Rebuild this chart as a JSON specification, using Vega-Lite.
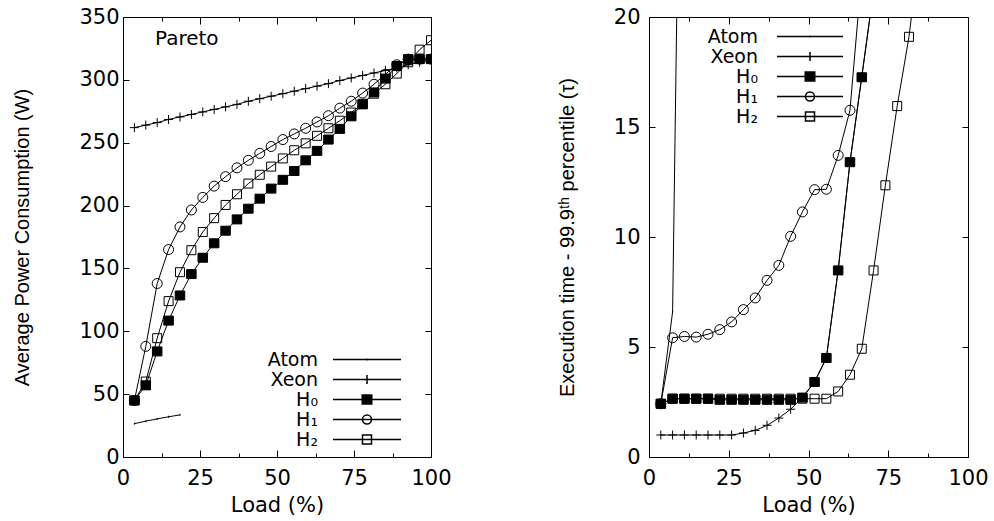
{
  "$schema": "https://vega.github.io/schema/vega-lite/v6.json",
  "padding": {"left": 12, "top": 5, "right": 5, "bottom": 5},
  "background": "white",
  "spacing": 104,
  "datasets": {
    "power": [
      {"series": "Atom", "load": 3.7, "value": 26.5}, {"series": "Atom", "load": 7.4, "value": 28.5}, {"series": "Atom", "load": 11.1, "value": 30.3}, {"series": "Atom", "load": 14.8, "value": 32}, {"series": "Atom", "load": 18.5, "value": 33.5},
      {"series": "Xeon", "load": 3.7, "value": 262}, {"series": "Xeon", "load": 7.4, "value": 264}, {"series": "Xeon", "load": 11.1, "value": 266}, {"series": "Xeon", "load": 14.8, "value": 268.5}, {"series": "Xeon", "load": 18.5, "value": 270.5}, {"series": "Xeon", "load": 22.2, "value": 272.5}, {"series": "Xeon", "load": 25.9, "value": 274.5}, {"series": "Xeon", "load": 29.6, "value": 276.5}, {"series": "Xeon", "load": 33.3, "value": 278.5}, {"series": "Xeon", "load": 37.0, "value": 280.5}, {"series": "Xeon", "load": 40.7, "value": 283}, {"series": "Xeon", "load": 44.4, "value": 285}, {"series": "Xeon", "load": 48.1, "value": 287}, {"series": "Xeon", "load": 51.9, "value": 289}, {"series": "Xeon", "load": 55.6, "value": 291}, {"series": "Xeon", "load": 59.3, "value": 293}, {"series": "Xeon", "load": 63.0, "value": 295}, {"series": "Xeon", "load": 66.7, "value": 297}, {"series": "Xeon", "load": 70.4, "value": 299.5}, {"series": "Xeon", "load": 74.1, "value": 301.5}, {"series": "Xeon", "load": 77.8, "value": 303.5}, {"series": "Xeon", "load": 81.5, "value": 305.5}, {"series": "Xeon", "load": 85.2, "value": 307.5}, {"series": "Xeon", "load": 88.9, "value": 309.5}, {"series": "Xeon", "load": 92.6, "value": 312}, {"series": "Xeon", "load": 96.3, "value": 314}, {"series": "Xeon", "load": 100, "value": 316},
      {"series": "H₂", "load": 3.7, "value": 45}, {"series": "H₂", "load": 7.4, "value": 60}, {"series": "H₂", "load": 11.1, "value": 94.5}, {"series": "H₂", "load": 14.8, "value": 124}, {"series": "H₂", "load": 18.5, "value": 147}, {"series": "H₂", "load": 22.2, "value": 164.5}, {"series": "H₂", "load": 25.9, "value": 179}, {"series": "H₂", "load": 29.6, "value": 190}, {"series": "H₂", "load": 33.3, "value": 200.5}, {"series": "H₂", "load": 37.0, "value": 209}, {"series": "H₂", "load": 40.7, "value": 217.5}, {"series": "H₂", "load": 44.4, "value": 224.5}, {"series": "H₂", "load": 48.1, "value": 231}, {"series": "H₂", "load": 51.9, "value": 237.5}, {"series": "H₂", "load": 55.6, "value": 244}, {"series": "H₂", "load": 59.3, "value": 249.5}, {"series": "H₂", "load": 63.0, "value": 255.5}, {"series": "H₂", "load": 66.7, "value": 261.5}, {"series": "H₂", "load": 70.4, "value": 267.5}, {"series": "H₂", "load": 74.1, "value": 274}, {"series": "H₂", "load": 77.8, "value": 281}, {"series": "H₂", "load": 81.5, "value": 289}, {"series": "H₂", "load": 85.2, "value": 296.5}, {"series": "H₂", "load": 88.9, "value": 305}, {"series": "H₂", "load": 92.6, "value": 314}, {"series": "H₂", "load": 96.3, "value": 324}, {"series": "H₂", "load": 100, "value": 331.5},
      {"series": "H₁", "load": 3.7, "value": 45}, {"series": "H₁", "load": 7.4, "value": 88}, {"series": "H₁", "load": 11.1, "value": 138}, {"series": "H₁", "load": 14.8, "value": 165}, {"series": "H₁", "load": 18.5, "value": 183}, {"series": "H₁", "load": 22.2, "value": 196.5}, {"series": "H₁", "load": 25.9, "value": 206.5}, {"series": "H₁", "load": 29.6, "value": 215.5}, {"series": "H₁", "load": 33.3, "value": 223}, {"series": "H₁", "load": 37.0, "value": 230}, {"series": "H₁", "load": 40.7, "value": 236}, {"series": "H₁", "load": 44.4, "value": 241.5}, {"series": "H₁", "load": 48.1, "value": 247}, {"series": "H₁", "load": 51.9, "value": 252.5}, {"series": "H₁", "load": 55.6, "value": 257}, {"series": "H₁", "load": 59.3, "value": 261.5}, {"series": "H₁", "load": 63.0, "value": 266.5}, {"series": "H₁", "load": 66.7, "value": 271.5}, {"series": "H₁", "load": 70.4, "value": 277.5}, {"series": "H₁", "load": 74.1, "value": 283}, {"series": "H₁", "load": 77.8, "value": 289.5}, {"series": "H₁", "load": 81.5, "value": 296.5}, {"series": "H₁", "load": 85.2, "value": 304.5}, {"series": "H₁", "load": 88.9, "value": 312}, {"series": "H₁", "load": 92.6, "value": 316.5}, {"series": "H₁", "load": 96.3, "value": 316.5}, {"series": "H₁", "load": 100, "value": 316.5},
      {"series": "H₀", "load": 3.7, "value": 45}, {"series": "H₀", "load": 7.4, "value": 57}, {"series": "H₀", "load": 11.1, "value": 84}, {"series": "H₀", "load": 14.8, "value": 108.5}, {"series": "H₀", "load": 18.5, "value": 128.5}, {"series": "H₀", "load": 22.2, "value": 145.5}, {"series": "H₀", "load": 25.9, "value": 158.5}, {"series": "H₀", "load": 29.6, "value": 170}, {"series": "H₀", "load": 33.3, "value": 180}, {"series": "H₀", "load": 37.0, "value": 189}, {"series": "H₀", "load": 40.7, "value": 197.5}, {"series": "H₀", "load": 44.4, "value": 205.5}, {"series": "H₀", "load": 48.1, "value": 213.5}, {"series": "H₀", "load": 51.9, "value": 220.5}, {"series": "H₀", "load": 55.6, "value": 227.5}, {"series": "H₀", "load": 59.3, "value": 236}, {"series": "H₀", "load": 63.0, "value": 243.5}, {"series": "H₀", "load": 66.7, "value": 252.5}, {"series": "H₀", "load": 70.4, "value": 261}, {"series": "H₀", "load": 74.1, "value": 271}, {"series": "H₀", "load": 77.8, "value": 280.5}, {"series": "H₀", "load": 81.5, "value": 290}, {"series": "H₀", "load": 85.2, "value": 301}, {"series": "H₀", "load": 88.9, "value": 311}, {"series": "H₀", "load": 92.6, "value": 316.5}, {"series": "H₀", "load": 96.3, "value": 316.5}, {"series": "H₀", "load": 100, "value": 316.5}
    ],
    "latency": [
      {"series": "Atom", "load": 3.7, "value": 2.42}, {"series": "Atom", "load": 7.4, "value": 6.6}, {"series": "Atom", "load": 11.1, "value": 45},
      {"series": "Xeon", "load": 3.7, "value": 1}, {"series": "Xeon", "load": 7.4, "value": 1}, {"series": "Xeon", "load": 11.1, "value": 1}, {"series": "Xeon", "load": 14.8, "value": 1}, {"series": "Xeon", "load": 18.5, "value": 1}, {"series": "Xeon", "load": 22.2, "value": 1}, {"series": "Xeon", "load": 25.9, "value": 1}, {"series": "Xeon", "load": 29.6, "value": 1.09}, {"series": "Xeon", "load": 33.3, "value": 1.21}, {"series": "Xeon", "load": 37.0, "value": 1.44}, {"series": "Xeon", "load": 40.7, "value": 1.77}, {"series": "Xeon", "load": 44.4, "value": 2.17}, {"series": "Xeon", "load": 48.1, "value": 2.71}, {"series": "Xeon", "load": 51.9, "value": 3.42}, {"series": "Xeon", "load": 55.6, "value": 4.5}, {"series": "Xeon", "load": 59.3, "value": 8.5}, {"series": "Xeon", "load": 63.0, "value": 13.4}, {"series": "Xeon", "load": 66.7, "value": 17.3}, {"series": "Xeon", "load": 70.4, "value": 21.2},
      {"series": "H₂", "load": 3.7, "value": 2.42}, {"series": "H₂", "load": 7.4, "value": 2.65}, {"series": "H₂", "load": 11.1, "value": 2.65}, {"series": "H₂", "load": 14.8, "value": 2.65}, {"series": "H₂", "load": 18.5, "value": 2.65}, {"series": "H₂", "load": 22.2, "value": 2.65}, {"series": "H₂", "load": 25.9, "value": 2.65}, {"series": "H₂", "load": 29.6, "value": 2.65}, {"series": "H₂", "load": 33.3, "value": 2.65}, {"series": "H₂", "load": 37.0, "value": 2.65}, {"series": "H₂", "load": 40.7, "value": 2.65}, {"series": "H₂", "load": 44.4, "value": 2.65}, {"series": "H₂", "load": 48.1, "value": 2.65}, {"series": "H₂", "load": 51.9, "value": 2.65}, {"series": "H₂", "load": 55.6, "value": 2.65}, {"series": "H₂", "load": 59.3, "value": 2.98}, {"series": "H₂", "load": 63.0, "value": 3.74}, {"series": "H₂", "load": 66.7, "value": 4.92}, {"series": "H₂", "load": 70.4, "value": 8.48}, {"series": "H₂", "load": 74.1, "value": 12.35}, {"series": "H₂", "load": 77.8, "value": 15.95}, {"series": "H₂", "load": 81.5, "value": 19.1}, {"series": "H₂", "load": 85.2, "value": 23.5},
      {"series": "H₁", "load": 3.7, "value": 2.42}, {"series": "H₁", "load": 7.4, "value": 5.42}, {"series": "H₁", "load": 11.1, "value": 5.48}, {"series": "H₁", "load": 14.8, "value": 5.45}, {"series": "H₁", "load": 18.5, "value": 5.58}, {"series": "H₁", "load": 22.2, "value": 5.79}, {"series": "H₁", "load": 25.9, "value": 6.14}, {"series": "H₁", "load": 29.6, "value": 6.7}, {"series": "H₁", "load": 33.3, "value": 7.23}, {"series": "H₁", "load": 37.0, "value": 8.03}, {"series": "H₁", "load": 40.7, "value": 8.71}, {"series": "H₁", "load": 44.4, "value": 10.03}, {"series": "H₁", "load": 48.1, "value": 11.14}, {"series": "H₁", "load": 51.9, "value": 12.15}, {"series": "H₁", "load": 55.6, "value": 12.17}, {"series": "H₁", "load": 59.3, "value": 13.71}, {"series": "H₁", "load": 63.0, "value": 15.76}, {"series": "H₁", "load": 66.7, "value": 22},
      {"series": "H₀", "load": 3.7, "value": 2.42}, {"series": "H₀", "load": 7.4, "value": 2.65}, {"series": "H₀", "load": 11.1, "value": 2.65}, {"series": "H₀", "load": 14.8, "value": 2.65}, {"series": "H₀", "load": 18.5, "value": 2.65}, {"series": "H₀", "load": 22.2, "value": 2.6}, {"series": "H₀", "load": 25.9, "value": 2.6}, {"series": "H₀", "load": 29.6, "value": 2.6}, {"series": "H₀", "load": 33.3, "value": 2.6}, {"series": "H₀", "load": 37.0, "value": 2.6}, {"series": "H₀", "load": 40.7, "value": 2.6}, {"series": "H₀", "load": 44.4, "value": 2.6}, {"series": "H₀", "load": 48.1, "value": 2.7}, {"series": "H₀", "load": 51.9, "value": 3.41}, {"series": "H₀", "load": 55.6, "value": 4.5}, {"series": "H₀", "load": 59.3, "value": 8.48}, {"series": "H₀", "load": 63.0, "value": 13.4}, {"series": "H₀", "load": 66.7, "value": 17.26}, {"series": "H₀", "load": 70.4, "value": 21.2}
    ]
  },
  "hconcat": [
    {
      "width": 308,
      "height": 440,
      "data": {"name": "power"},
      "title": {"text": "Pareto", "frame": "group", "anchor": "start", "orient": "top", "offset": -43, "dx": 32, "font": "DejaVu Sans", "fontSize": 20, "fontWeight": "normal", "color": "black"},
      "layer": [
        {
          "mark": {"type": "line", "color": "black", "strokeWidth": 1, "clip": true},
          "encoding": {
            "x": {"field": "load", "type": "quantitative", "scale": {"domain": [0, 100], "nice": false},
              "axis": {"orient": "bottom", "title": "Load (%)", "values": [0, 12.5, 25, 37.5, 50, 62.5, 75, 87.5, 100],
                "labelExpr": "datum.value % 25 === 0 ? datum.label : ''",
                "tickSize": {"condition": {"test": "datum.value % 25 === 0", "value": -7}, "value": -4},
                "labelPadding": 17, "titlePadding": 3}},
            "y": {"field": "value", "type": "quantitative", "scale": {"domain": [0, 350], "nice": false},
              "axis": {"orient": "left", "title": "Average Power Consumption (W)", "values": [0, 50, 100, 150, 200, 250, 300, 350], "tickSize": -6, "labelPadding": 10, "titlePadding": 46, "titleFont": "Liberation Sans", "titleFontSize": 20}},
            "detail": {"field": "series"},
            "order": {"field": "load"}
          }
        },
        {
          "mark": {"type": "point", "filled": true, "stroke": "black", "strokeWidth": 1, "opacity": 1, "size": 100, "clip": true},
          "encoding": {
            "x": {"field": "load", "type": "quantitative",
              "axis": {"orient": "top", "title": null, "labels": false, "values": [0, 12.5, 25, 37.5, 50, 62.5, 75, 87.5, 100],
                "tickSize": {"condition": {"test": "datum.value % 25 === 0", "value": -7}, "value": -4}}},
            "y": {"field": "value", "type": "quantitative",
              "axis": {"orient": "right", "title": null, "labels": false, "values": [0, 50, 100, 150, 200, 250, 300, 350], "tickSize": -6}},
            "shape": {"field": "series", "type": "nominal",
              "scale": {"domain": ["Atom", "Xeon", "H₀", "H₁", "H₂"], "range": ["M0,-0.2V0.2", "M-0.9,0H0.9M0,-0.9V0.9", "M-0.95,-0.9H0.95V0.9H-0.95Z", "M1,0A1,1 0 1,1 -1,0A1,1 0 1,1 1,0Z", "M-0.9,-0.9H0.9V0.9H-0.9Z"]},
              "legend": null},
            "fill": {"field": "series", "type": "nominal",
              "scale": {"domain": ["Atom", "Xeon", "H₀", "H₁", "H₂"], "range": ["transparent", "transparent", "black", "transparent", "transparent"]},
              "legend": null}
          }
        },
        {
          "transform": [{"filter": "false"}],
          "mark": {"type": "point", "filled": true, "stroke": "black", "strokeWidth": 1, "opacity": 1, "size": 100},
          "encoding": {
            "shape": {"field": "series", "type": "nominal",
              "scale": {"domain": ["Atom", "Xeon", "H₀", "H₁", "H₂"], "range": ["M-6.8,0H6.8M0,-0.2V0.2", "M-6.8,0H6.8M0,-0.9V0.9", "M-6.8,0H6.8M-0.95,-0.9H0.95V0.9H-0.95Z", "M-6.8,0H6.8M0.9,0A0.9,0.9 0 1,1 -0.9,0A0.9,0.9 0 1,1 0.9,0Z", "M-6.8,0H6.8M-0.9,-0.9H0.9V0.9H-0.9Z"]},
              "legend": {"orient": "none", "legendX": 234.5, "legendY": 333, "title": null, "padding": 0, "rowPadding": 0, "symbolSize": 100,
                "labelAlign": "right", "labelOffset": -58.5, "labelFont": "DejaVu Sans", "labelFontSize": 19, "labelColor": "black",
                "encode": {"symbols": {"update": {
                  "fill": {"signal": "datum.value === 'H₀' ? 'black' : 'transparent'"},
                  "stroke": {"value": "black"}, "strokeWidth": {"value": 1}, "opacity": {"value": 1}}}}}},
            "fill": {"field": "series", "type": "nominal",
              "scale": {"domain": ["Atom", "Xeon", "H₀", "H₁", "H₂"], "range": ["transparent", "transparent", "black", "transparent", "transparent"]},
              "legend": null}
          }
        }
      ],
      "resolve": {"axis": {"x": "independent", "y": "independent"}, "scale": {"shape": "independent", "fill": "independent"}, "legend": {"shape": "independent"}}
    },
    {
      "width": 319,
      "height": 440,
      "data": {"name": "latency"},
      "layer": [
        {
          "mark": {"type": "line", "color": "black", "strokeWidth": 1, "clip": true},
          "encoding": {
            "x": {"field": "load", "type": "quantitative", "scale": {"domain": [0, 100], "nice": false},
              "axis": {"orient": "bottom", "title": "Load (%)", "values": [0, 12.5, 25, 37.5, 50, 62.5, 75, 87.5, 100],
                "labelExpr": "datum.value % 25 === 0 ? datum.label : ''",
                "tickSize": {"condition": {"test": "datum.value % 25 === 0", "value": -7}, "value": -4},
                "labelPadding": 17, "titlePadding": 3}},
            "y": {"field": "value", "type": "quantitative", "scale": {"domain": [0, 20], "nice": false},
              "axis": {"orient": "left", "title": "Execution time - 99.9ᵗʰ percentile (τ)", "values": [0, 5, 10, 15, 20], "tickSize": -6, "labelPadding": 15, "titlePadding": 36, "titleFont": "Liberation Sans", "titleFontSize": 20}},
            "detail": {"field": "series"},
            "order": {"field": "load"}
          }
        },
        {
          "mark": {"type": "point", "filled": true, "stroke": "black", "strokeWidth": 1, "opacity": 1, "size": 100, "clip": true},
          "encoding": {
            "x": {"field": "load", "type": "quantitative",
              "axis": {"orient": "top", "title": null, "labels": false, "values": [0, 12.5, 25, 37.5, 50, 62.5, 75, 87.5, 100],
                "tickSize": {"condition": {"test": "datum.value % 25 === 0", "value": -7}, "value": -4}}},
            "y": {"field": "value", "type": "quantitative",
              "axis": {"orient": "right", "title": null, "labels": false, "values": [0, 5, 10, 15, 20], "tickSize": -6}},
            "shape": {"field": "series", "type": "nominal",
              "scale": {"domain": ["Atom", "Xeon", "H₀", "H₁", "H₂"], "range": ["M0,-0.2V0.2", "M-0.9,0H0.9M0,-0.9V0.9", "M-0.95,-0.9H0.95V0.9H-0.95Z", "M1,0A1,1 0 1,1 -1,0A1,1 0 1,1 1,0Z", "M-0.9,-0.9H0.9V0.9H-0.9Z"]},
              "legend": null},
            "fill": {"field": "series", "type": "nominal",
              "scale": {"domain": ["Atom", "Xeon", "H₀", "H₁", "H₂"], "range": ["transparent", "transparent", "black", "transparent", "transparent"]},
              "legend": null}
          }
        },
        {
          "transform": [{"filter": "false"}],
          "mark": {"type": "point", "filled": true, "stroke": "black", "strokeWidth": 1, "opacity": 1, "size": 100},
          "encoding": {
            "shape": {"field": "series", "type": "nominal",
              "scale": {"domain": ["Atom", "Xeon", "H₀", "H₁", "H₂"], "range": ["M-6.6,0H6.6M0,-0.2V0.2", "M-6.6,0H6.6M0,-0.9V0.9", "M-6.6,0H6.6M-0.95,-0.9H0.95V0.9H-0.95Z", "M-6.6,0H6.6M0.9,0A0.9,0.9 0 1,1 -0.9,0A0.9,0.9 0 1,1 0.9,0Z", "M-6.6,0H6.6M-0.9,-0.9H0.9V0.9H-0.9Z"]},
              "legend": {"orient": "none", "legendX": 151.5, "legendY": 10, "title": null, "padding": 0, "rowPadding": 0, "symbolSize": 100,
                "labelAlign": "right", "labelOffset": -61.5, "labelFont": "DejaVu Sans", "labelFontSize": 19, "labelColor": "black",
                "encode": {"symbols": {"update": {
                  "fill": {"signal": "datum.value === 'H₀' ? 'black' : 'transparent'"},
                  "stroke": {"value": "black"}, "strokeWidth": {"value": 1}, "opacity": {"value": 1}}}}}},
            "fill": {"field": "series", "type": "nominal",
              "scale": {"domain": ["Atom", "Xeon", "H₀", "H₁", "H₂"], "range": ["transparent", "transparent", "black", "transparent", "transparent"]},
              "legend": null}
          }
        }
      ],
      "resolve": {"axis": {"x": "independent", "y": "independent"}, "scale": {"shape": "independent", "fill": "independent"}, "legend": {"shape": "independent"}}
    }
  ],
  "resolve": {"scale": {"shape": "independent", "fill": "independent"}, "legend": {"shape": "independent"}},
  "config": {
    "view": {"stroke": "black", "strokeWidth": 1},
    "axis": {"domain": false, "grid": false, "tickColor": "black", "tickWidth": 1, "labelColor": "black", "titleColor": "black",
      "labelFont": "DejaVu Sans", "labelFontSize": 21, "titleFont": "DejaVu Sans", "titleFontSize": 21, "titleFontWeight": "normal", "labelFlush": false, "labelOverlap": false}
  }
}
